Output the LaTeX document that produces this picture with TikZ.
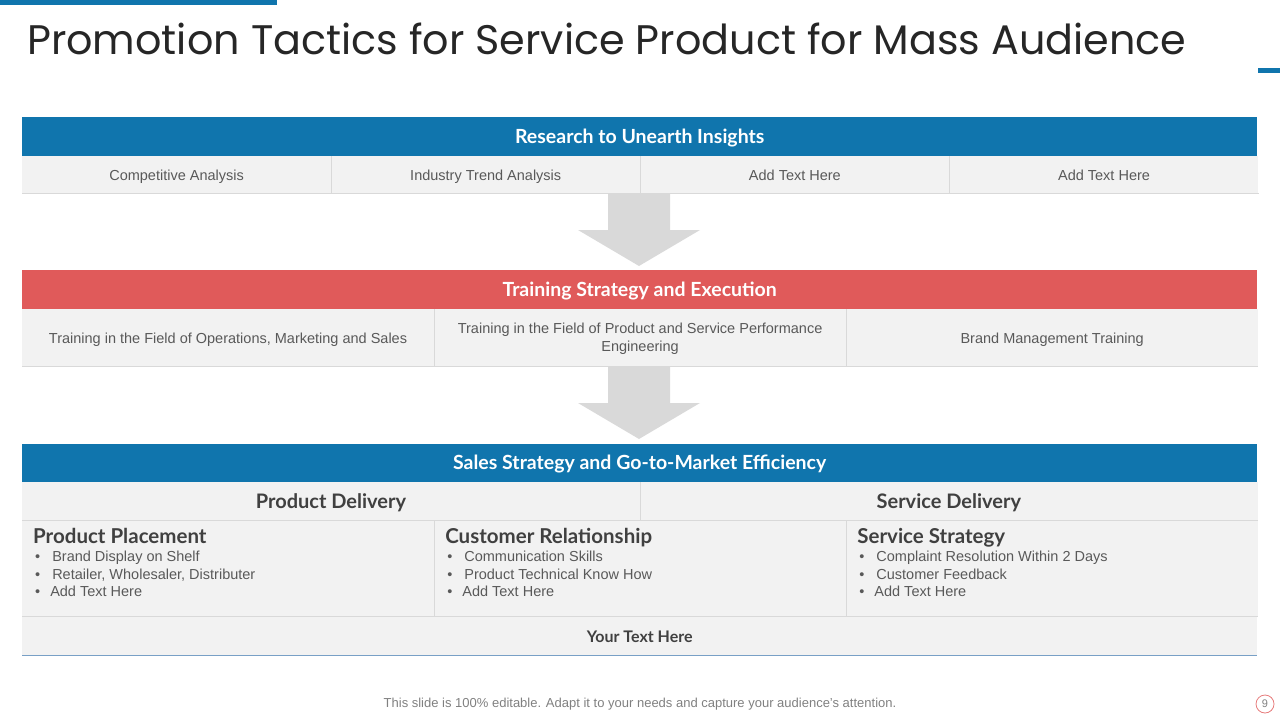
\documentclass[tikz,border=0pt]{standalone}
\usepackage{fontspec}
\setmainfont{Liberation Sans}
\newfontfamily\titlefont{Poppins}
\newfontfamily\headfont{Lato}
\usetikzlibrary{positioning}
\definecolor{hdblue}{RGB}{16,117,173}
\definecolor{hdred}{RGB}{224,90,90}
\definecolor{cellgray}{RGB}{242,242,242}
\definecolor{linegray}{RGB}{217,217,217}
\definecolor{txtgray}{RGB}{89,89,89}
\definecolor{dkgray}{RGB}{64,64,64}
\definecolor{arrgray}{RGB}{217,217,217}
\definecolor{baseblue}{RGB}{120,160,198}

\begin{document}
\begin{tikzpicture}[x=1pt, y=-1pt,
    hdr/.style={anchor=north west, inner sep=0pt, minimum width=1235pt, minimum height=39pt, text height=15pt, text depth=2pt, text=white, font=\headfont\bfseries\fontsize{19.5}{21}\selectfont},
    cell/.style={anchor=north west, fill=cellgray, inner sep=0pt, text height=12.5pt, text depth=1pt, text=txtgray, align=center, font=\fontsize{14.5}{18}\selectfont},
    sub/.style={cell, text height=17pt, text depth=1.5pt, text=dkgray, font=\headfont\bfseries\fontsize{20}{22}\selectfont},
    ttl/.style={anchor=north west, inner sep=0pt, text height=15pt, text depth=4.5pt, text=dkgray, font=\headfont\bfseries\fontsize{20.5}{22}\selectfont},
    blt/.style={anchor=north west, inner sep=0pt, align=left, text=txtgray, font=\fontsize{14.5}{17.5}\selectfont},
    sep/.style={draw=linegray, line width=0.8pt},
    blk/.style={fill=arrgray}
]
\useasboundingbox (0,0) rectangle (1280,720);

% title and accents
\fill[hdblue] (0,0) rectangle (277,5);
\fill[hdblue] (1258,68) rectangle (1280,73);
\node[anchor=base west, inner sep=0pt, text=black!85, font=\titlefont\fontsize{41.3}{44}\selectfont] (title) at (27,54.5) {Promotion Tactics for Service Product for Mass Audience};

% research
\node[hdr, fill=hdblue] (res) at (22,117) {Research to Unearth Insights};
\node[cell, minimum width=308.75pt, minimum height=37pt] (res1) at (22,156) {Competitive Analysis};
\node[cell, minimum width=308.75pt, minimum height=37pt, right=0pt of res1] (res2) {Industry Trend Analysis};
\node[cell, minimum width=308.75pt, minimum height=37pt, right=0pt of res2] (res3) {Add Text Here};
\node[cell, minimum width=308.75pt, minimum height=37pt, right=0pt of res3] (res4) {Add Text Here};
\draw[sep] (res1.north east) -- (res1.south east);
\draw[sep] (res2.north east) -- (res2.south east);
\draw[sep] (res3.north east) -- (res3.south east);
\draw[sep] (res1.south west) -- (res4.south east);

\fill[blk] (608,193) -- (670,193) -- (670,230) -- (700,230) -- (639,266) -- (578,230) -- (608,230) -- cycle;

% training
\node[hdr, fill=hdred] (trn) at (22,270) {Training Strategy and Execution};
\node[cell, minimum width=411.67pt, minimum height=57pt] (trn1) at (22,309) {Training in the Field of Operations, Marketing and Sales};
\node[cell, minimum width=411.67pt, minimum height=57pt, text height=28pt, right=0pt of trn1] (trn2) {Training in the Field of Product and Service Performance\\Engineering};
\node[cell, minimum width=411.67pt, minimum height=57pt, right=0pt of trn2] (trn3) {Brand Management Training};
\draw[sep] (trn1.north east) -- (trn1.south east);
\draw[sep] (trn2.north east) -- (trn2.south east);
\draw[sep] (trn1.south west) -- (trn3.south east);

\fill[blk] (608,366) -- (670,366) -- (670,403) -- (700,403) -- (639,439) -- (578,403) -- (608,403) -- cycle;

% sales
\node[hdr, fill=hdblue, minimum height=38pt] (sal) at (22,444) {Sales Strategy and Go-to-Market Efficiency};
\node[sub, minimum width=617.5pt, minimum height=38pt] (pdel) at (22,482) {Product Delivery};
\node[sub, minimum width=617.5pt, minimum height=38pt, right=0pt of pdel] (sdel) {Service Delivery};

\node[cell, minimum width=411.67pt, minimum height=96pt] (pp) at (22,520) {};
\node[cell, minimum width=411.67pt, minimum height=96pt, right=0pt of pp] (cr) {};
\node[cell, minimum width=411.67pt, minimum height=96pt, right=0pt of cr] (ss) {};

\node[ttl, below right=8pt and 11pt of pp.north west] (ppt) {Product Placement};
\node[blt, below right=3pt and 2pt of ppt.south west] (ppb) {\textbullet\hspace{12pt}Brand Display on Shelf\\\textbullet\hspace{12pt}Retailer, Wholesaler, Distributer\\\textbullet\hspace{10pt}Add Text Here};
\node[ttl, below right=8pt and 11pt of cr.north west] (crt) {Customer Relationship};
\node[blt, below right=3pt and 2pt of crt.south west] (crb) {\textbullet\hspace{12pt}Communication Skills\\\textbullet\hspace{12pt}Product Technical Know How\\\textbullet\hspace{10pt}Add Text Here};
\node[ttl, below right=8pt and 11pt of ss.north west] (sst) {Service Strategy};
\node[blt, below right=3pt and 2pt of sst.south west] (ssb) {\textbullet\hspace{12pt}Complaint Resolution Within 2 Days\\\textbullet\hspace{12pt}Customer Feedback\\\textbullet\hspace{10pt}Add Text Here};

\node[cell, minimum width=1235pt, minimum height=39pt, text height=13pt, text depth=0pt, text=dkgray, font=\headfont\bfseries\fontsize{16}{18}\selectfont] (your) at (22,616) {Your Text Here};

\draw[sep] (pdel.north east) -- (pdel.south east);
\draw[sep] (pdel.south west) -- (sdel.south east);
\draw[sep] (pp.north east) -- (pp.south east);
\draw[sep] (cr.north east) -- (cr.south east);
\draw[sep] (pp.south west) -- (ss.south east);
\draw[baseblue, line width=1.5pt] (your.south west) -- (your.south east);

% footer
\node[text=gray, font=\fontsize{13}{15}\selectfont] (foot) at (640,704.5) {This slide is 100\% editable. Adapt it to your needs and capture your audience's attention.};
\node[circle, draw=hdred!80, line width=0.8pt, minimum size=18pt, inner sep=0pt, text=gray, font=\fontsize{11}{12}\selectfont] (pg) at (1265,704) {9};
\end{tikzpicture}
\end{document}
